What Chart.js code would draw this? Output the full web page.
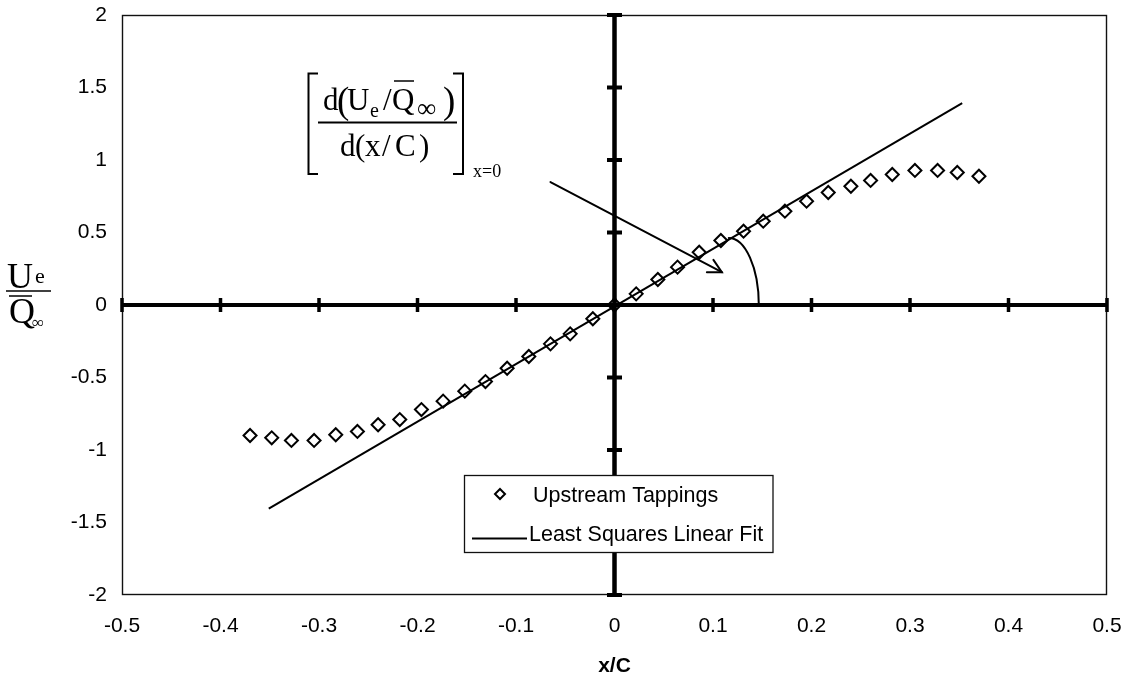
<!DOCTYPE html>
<html>
<head>
<meta charset="utf-8">
<script src="https://cdn.jsdelivr.net/npm/chart.js@4.4.1/dist/chart.umd.min.js"></script>
<style>
  html, body { margin: 0; padding: 0; background: #fff; }
  #wrap { width: 1132px; height: 685px; }
</style>
</head>
<body>
<div id="wrap"><canvas id="c" width="1132" height="685"></canvas></div>
<script>
// Pressure tappings upstream of the leading edge: position x/C and velocity ratio Ue/Q∞
const tapX = [-0.370, -0.348, -0.328, -0.305, -0.283, -0.261, -0.240, -0.218, -0.196, -0.174,
              -0.152, -0.131, -0.109, -0.087, -0.065, -0.045, -0.022, 0.000,
               0.022,  0.044,  0.064,  0.086,  0.108,  0.131,  0.151,  0.173,  0.195,
               0.217,  0.240,  0.260,  0.282,  0.305,  0.328,  0.348,  0.370];
const tapY = [-0.900, -0.916, -0.934, -0.934, -0.895, -0.872, -0.826, -0.790, -0.721, -0.663,
              -0.594, -0.528, -0.436, -0.355, -0.268, -0.199, -0.095, 0.000,
               0.077,  0.176,  0.261,  0.364,  0.445,  0.509,  0.578,  0.647,  0.716,
               0.776,  0.819,  0.859,  0.900,  0.928,  0.928,  0.914,  0.888];

// End points of the least squares straight line through the central tappings
const fitX = [-0.351, 0.353];
const fitY = [-1.405, 1.392];

// Slope annotation: arrow (start, tip) and the angle arc at the x-axis
const arrowX = [-0.065, 0.109];
const arrowY = [0.848, 0.226];
const arcCentre = [0.116, 0.0];
const arcRadii = [0.0305, 0.462];

const xTicks = [-0.5, -0.4, -0.3, -0.2, -0.1, 0, 0.1, 0.2, 0.3, 0.4, 0.5];
const yTicks = [-2, -1.5, -1, -0.5, 0, 0.5, 1, 1.5, 2];
const seriesNames = ['Upstream Tappings', 'Least Squares Linear Fit'];

const SANS = 'Liberation Sans, Arial, sans-serif';
const SERIF = 'Liberation Serif, Times New Roman, serif';
const fmt = v => String(Math.round(v * 10) / 10);

function text(ctx, s, x, y, size, family, weight) {
  ctx.font = (weight ? weight + ' ' : '') + size + 'px ' + family;
  ctx.fillText(s, x, y);
}
function hline(ctx, x1, x2, y, w) {
  ctx.lineWidth = w;
  ctx.beginPath(); ctx.moveTo(x1, y); ctx.lineTo(x2, y); ctx.stroke();
}

const decor = {
  id: 'decor',
  beforeDatasetsDraw(chart) {
    const { ctx, chartArea: a, scales: { x, y } } = chart;
    ctx.save();
    // plot frame
    ctx.strokeStyle = '#111';
    ctx.lineWidth = 1.4;
    ctx.strokeRect(a.left + 0.5, a.top + 0.5, a.right - a.left - 1, a.bottom - a.top - 1);
    // heavy zero axes with cross ticks
    const x0 = x.getPixelForValue(0), y0 = y.getPixelForValue(0);
    ctx.fillStyle = '#000';
    ctx.fillRect(a.left, y0 - 2, a.right - a.left, 4);
    ctx.fillRect(x0 - 2.25, a.top, 4.5, a.bottom - a.top);
    xTicks.forEach(v => {
      const px = x.getPixelForValue(v);
      ctx.fillRect(px - 1.75, y0 - 7, 3.5, 14);
    });
    yTicks.forEach(v => {
      const py = y.getPixelForValue(v);
      ctx.fillRect(x0 - 7.5, py - 2, 15, 4);
    });
    ctx.restore();
  },
  afterDatasetsDraw(chart) {
    const { ctx, scales: { x, y } } = chart;
    ctx.save();
    ctx.strokeStyle = '#000';
    ctx.fillStyle = '#000';
    ctx.lineCap = 'round';

    // arrow pointing at the slope
    const sx = x.getPixelForValue(arrowX[0]), sy = y.getPixelForValue(arrowY[0]);
    const tx = x.getPixelForValue(arrowX[1]), ty = y.getPixelForValue(arrowY[1]);
    ctx.lineWidth = 2;
    ctx.beginPath(); ctx.moveTo(sx, sy); ctx.lineTo(tx, ty); ctx.stroke();
    const ang = Math.atan2(ty - sy, tx - sx) + Math.PI;
    const head = 15, spread = 28 * Math.PI / 180;
    ctx.beginPath();
    ctx.moveTo(tx + head * Math.cos(ang + spread), ty + head * Math.sin(ang + spread));
    ctx.lineTo(tx, ty);
    ctx.lineTo(tx + head * Math.cos(ang - spread), ty + head * Math.sin(ang - spread));
    ctx.stroke();

    // angle arc between fit line and x-axis
    const cx = x.getPixelForValue(arcCentre[0]), cy = y.getPixelForValue(arcCentre[1]);
    const rx = x.getPixelForValue(arcCentre[0] + arcRadii[0]) - cx;
    const ry = cy - y.getPixelForValue(arcCentre[1] + arcRadii[1]);
    ctx.beginPath();
    ctx.ellipse(cx, cy, rx, ry, 0, -Math.PI / 2, 0);
    ctx.stroke();

    // bracketed derivative expression
    ctx.lineCap = 'butt';
    ctx.lineWidth = 2;
    ctx.beginPath();
    ctx.moveTo(318, 73.5); ctx.lineTo(308.5, 73.5); ctx.lineTo(308.5, 174); ctx.lineTo(318, 174);
    ctx.moveTo(453, 73.5); ctx.lineTo(463, 73.5); ctx.lineTo(463, 174); ctx.lineTo(453, 174);
    ctx.stroke();
    hline(ctx, 318, 457, 122.5, 1.8);
    ctx.textBaseline = 'alphabetic';
    ctx.textAlign = 'left';
    // numerator d(Ue / Q∞)
    text(ctx, 'd', 323, 110, 31, SERIF);
    text(ctx, '(', 337, 113, 37, SERIF);
    text(ctx, 'U', 347, 110, 31, SERIF);
    text(ctx, 'e', 370, 117, 20, SERIF);
    text(ctx, '/', 383, 110, 31, SERIF);
    text(ctx, 'Q', 392, 110, 31, SERIF);
    hline(ctx, 394, 414, 81, 1.5);
    text(ctx, '\u221E', 417, 117, 27, SERIF);
    text(ctx, ')', 443, 113, 37, SERIF);
    // denominator d(x / C)
    text(ctx, 'd', 340, 156, 31, SERIF);
    text(ctx, '(', 355, 156, 31, SERIF);
    text(ctx, 'x', 365, 156, 31, SERIF);
    text(ctx, '/', 382, 156, 31, SERIF);
    text(ctx, 'C', 395, 156, 31, SERIF);
    text(ctx, ')', 419, 156, 31, SERIF);
    // evaluation point
    text(ctx, 'x=0', 473, 177, 18, SERIF);

    // vertical axis label Ue / Q∞ (stacked fraction)
    text(ctx, 'U', 7, 288, 36, SERIF);
    text(ctx, 'e', 35, 283, 22, SERIF);
    hline(ctx, 6, 51, 291, 1.5);
    hline(ctx, 9, 32, 296, 1.5);
    text(ctx, 'Q', 9, 323, 36, SERIF);
    text(ctx, '\u221E', 32, 328, 17, SERIF);
    ctx.restore();
  },
  afterDraw(chart) {
    const { ctx } = chart;
    const ds = chart.data.datasets;
    ctx.save();
    // legend box
    ctx.fillStyle = '#fff';
    ctx.fillRect(464.5, 475.5, 308.5, 77);
    ctx.strokeStyle = '#111';
    ctx.lineWidth = 1.3;
    ctx.strokeRect(464.5, 475.5, 308.5, 77);
    ctx.strokeStyle = '#000';
    ctx.fillStyle = '#000';
    // diamond entry
    const dx = 500, dy = 494, r = 5;
    ctx.lineWidth = 2;
    ctx.beginPath();
    ctx.moveTo(dx, dy - r); ctx.lineTo(dx + r, dy); ctx.lineTo(dx, dy + r); ctx.lineTo(dx - r, dy);
    ctx.closePath(); ctx.stroke();
    // line entry
    hline(ctx, 472, 527, 538.5, 2);
    ctx.textBaseline = 'alphabetic';
    ctx.textAlign = 'left';
    text(ctx, ds[0].label, 533, 502, 21.5, SANS);
    text(ctx, ds[1].label, 529, 541, 21.5, SANS);
    ctx.restore();
  }
};

new Chart(document.getElementById('c'), {
  type: 'scatter',
  data: {
    datasets: [
      {
        label: seriesNames[0],
        data: tapX.map((v, i) => ({ x: v, y: tapY[i] })),
        pointStyle: 'rectRot',
        pointRadius: 6.5,
        pointBorderWidth: 2,
        pointBorderColor: '#000',
        pointBackgroundColor: 'rgba(0,0,0,0)',
        borderColor: '#000',
        backgroundColor: 'rgba(0,0,0,0)',
        showLine: false
      },
      {
        label: seriesNames[1],
        type: 'line',
        data: fitX.map((v, i) => ({ x: v, y: fitY[i] })),
        borderColor: '#000',
        borderWidth: 2,
        pointRadius: 0,
        fill: false,
        showLine: true
      }
    ]
  },
  options: {
    responsive: false,
    animation: false,
    devicePixelRatio: 1,
    layout: { padding: { top: 15, right: 25, left: 0, bottom: 0 } },
    plugins: { legend: { display: false }, tooltip: { enabled: false } },
    scales: {
      x: {
        type: 'linear', min: -0.5, max: 0.5,
        afterFit(s) { s.height = 90; s.paddingLeft = 0; s.paddingRight = 0; },
        afterBuildTicks(s) { s.ticks = xTicks.map(v => ({ value: v })); },
        grid: { display: false, drawTicks: false },
        border: { display: false },
        ticks: {
          padding: 19, color: '#000', autoSkip: false, maxRotation: 0,
          font: { family: SANS, size: 21 },
          callback: v => fmt(v)
        },
        title: {
          display: true, text: 'x/C', color: '#000',
          font: { family: SANS, size: 21, weight: 'bold' },
          padding: { top: 0, bottom: 6 }
        }
      },
      y: {
        type: 'linear', min: -2, max: 2,
        afterFit(s) { s.width = 122; s.paddingTop = 0; s.paddingBottom = 0; },
        afterBuildTicks(s) { s.ticks = yTicks.map(v => ({ value: v })); },
        grid: { display: false, drawTicks: false },
        border: { display: false },
        ticks: {
          padding: 15, color: '#000', autoSkip: false,
          font: { family: SANS, size: 21 },
          callback: v => fmt(v)
        }
      }
    }
  },
  plugins: [decor]
});
</script>
</body>
</html>
